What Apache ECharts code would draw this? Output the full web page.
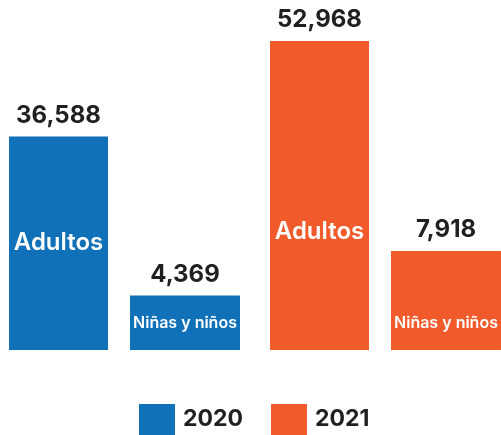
<!DOCTYPE html>
<html><head><meta charset="utf-8">
<script src="https://cdn.jsdelivr.net/npm/echarts@6/dist/echarts.min.js"></script>
<style>html,body{margin:0;padding:0;background:#fff}#c{width:501px;height:435px}</style>
</head><body><div id="c"></div>
<script>
// ---- data ----
const years = ['2020', '2021'];
const groups = ['Adultos', 'Niñas y niños'];
const adults = [36588, 52968];
const children = [4369, 7918];

// ---- style ----
const yearColors = ['#1071B9', '#F15B2B'];
const FONT = 'Inter, "Noto Sans", sans-serif';
const fmt = v => Number(v).toLocaleString('en-US');

// Name-line heights (vertical placement of the in-bar names), per year
const nameLH = { A: [231, 400], K: [73, 162] };

function makeSeries(yearIdx, kind) {
  const vals = kind === 'A' ? adults : children;
  const groupName = kind === 'A' ? groups[0] : groups[1];
  return {
    name: years[yearIdx],
    type: 'bar',
    stack: kind,
    yAxisIndex: kind === 'A' ? 0 : 1,
    barWidth: kind === 'A' ? 99 : 110,
    barGap: '22.2%',
    itemStyle: { color: yearColors[yearIdx] },
    data: years.map((y, i) => i === yearIdx ? vals[i] : '-'),
    label: {
      show: true,
      position: ['50%', -33],
      align: 'center',
      verticalAlign: 'top',
      formatter: p => '{v|' + fmt(p.value) + '}\n{n|' + groupName + '}',
      rich: {
        v: { fontFamily: FONT, fontSize: 24, fontWeight: 'bold', color: '#231F20', lineHeight: 24 },
        n: { fontFamily: FONT, fontSize: kind === 'A' ? 24 : 16, fontWeight: 600, color: '#ffffff',
             lineHeight: nameLH[kind][yearIdx] }
      }
    }
  };
}

const series = [
  makeSeries(0, 'A'), makeSeries(0, 'K'),
  makeSeries(1, 'A'), makeSeries(1, 'K')
];

const chart = echarts.init(document.getElementById('c'), null, { renderer: 'canvas' });
chart.setOption({
  animation: false,
  backgroundColor: '#ffffff',
  grid: { left: -6, width: 522, top: 0, bottom: 85, containLabel: false, outerBoundsMode: 'none' },
  xAxis: { type: 'category', data: years, show: false },
  yAxis: [
    { type: 'value', min: 0, max: 60000, show: false },
    { type: 'value', min: 0, max: 28000, show: false }
  ],
  legend: {
    data: years.map(y => ({ name: y, icon: 'rect' })),
    left: 139, top: 404, padding: 0,
    itemWidth: 36, itemHeight: 31, itemGap: 28,
    selectedMode: false,
    textStyle: { fontFamily: FONT, fontSize: 23, fontWeight: 'bold', color: '#231F20', padding: [0, 0, 0, 3] }
  },
  series: series
});
</script></body></html>
